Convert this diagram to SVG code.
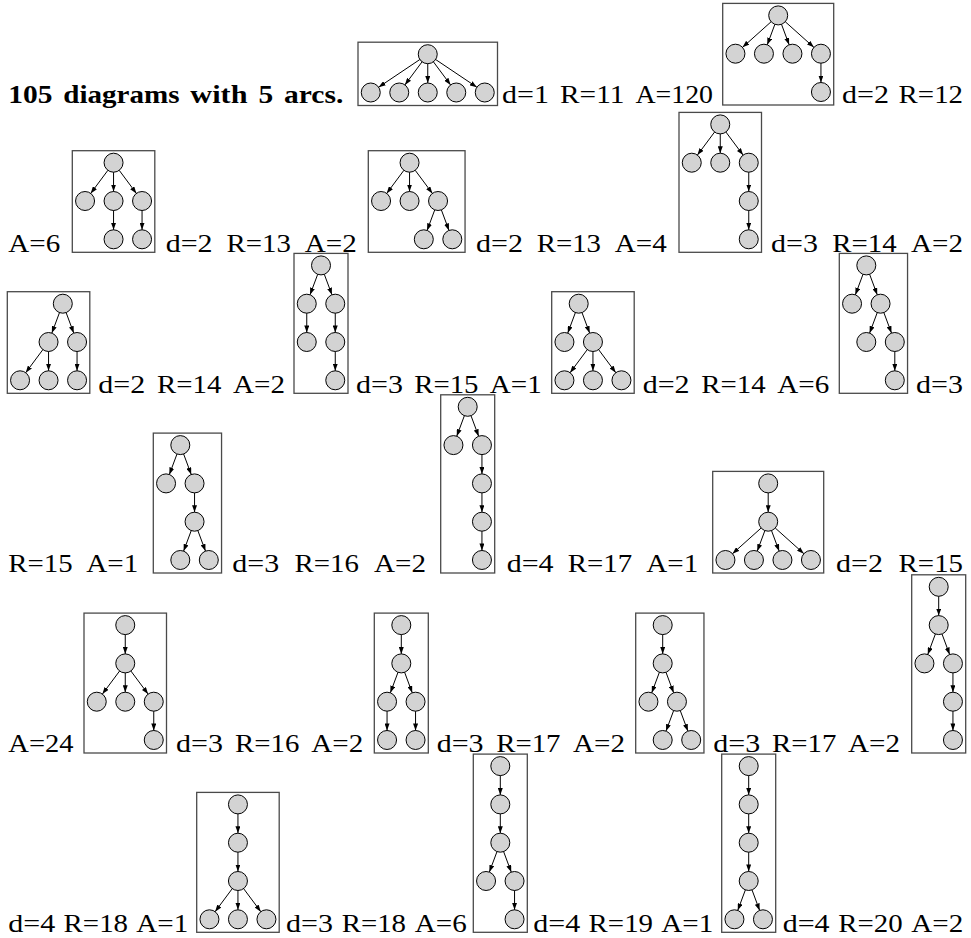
<svg xmlns="http://www.w3.org/2000/svg" width="971" height="938" viewBox="0 0 971 938">
<style>
.box{fill:none;stroke:#4a4a4a;stroke-width:1.3}
.n{fill:#d3d3d3;stroke:#000;stroke-width:1}
.e{stroke:#000;stroke-width:1;fill:none;marker-end:url(#ah)}
</style>
<defs>
<marker id="ah" markerUnits="userSpaceOnUse" markerWidth="7" markerHeight="5" refX="7" refY="2.5" orient="auto">
<path d="M0,0 L7,2.5 L0,5 z" fill="#000"/>
</marker>
</defs>
<rect width="971" height="938" fill="#fff"/>
<g id="title" font-family="Liberation Serif, Times New Roman, serif" font-size="25.5" font-weight="bold" fill="#000">
<text x="8.3" y="103" textLength="44.2" lengthAdjust="spacingAndGlyphs">105</text>
<text x="63.3" y="103" textLength="116.2" lengthAdjust="spacingAndGlyphs">diagrams</text>
<text x="190.3" y="103" textLength="57.2" lengthAdjust="spacingAndGlyphs">with</text>
<text x="258.4" y="103" textLength="14.7" lengthAdjust="spacingAndGlyphs">5</text>
<text x="284" y="103" textLength="59.3" lengthAdjust="spacingAndGlyphs">arcs.</text>
</g>
<g id="labels" font-family="Liberation Serif, Times New Roman, serif" font-size="26" fill="#000">
<text x="502" y="103" textLength="46.95" lengthAdjust="spacingAndGlyphs">d=1</text>
<text x="560.04" y="103" textLength="64.36" lengthAdjust="spacingAndGlyphs">R=11</text>
<text x="635.48" y="103" textLength="77.52" lengthAdjust="spacingAndGlyphs">A=120</text>
<text x="842" y="103" textLength="46.95" lengthAdjust="spacingAndGlyphs">d=2</text>
<text x="898.64" y="103" textLength="64.36" lengthAdjust="spacingAndGlyphs">R=12</text>
<text x="8.3" y="251.5" textLength="51.92" lengthAdjust="spacingAndGlyphs">A=6</text>
<text x="165.7" y="251.5" textLength="46.95" lengthAdjust="spacingAndGlyphs">d=2</text>
<text x="226.54" y="251.5" textLength="64.36" lengthAdjust="spacingAndGlyphs">R=13</text>
<text x="304.79" y="251.5" textLength="51.92" lengthAdjust="spacingAndGlyphs">A=2</text>
<text x="476" y="251.5" textLength="46.95" lengthAdjust="spacingAndGlyphs">d=2</text>
<text x="536.69" y="251.5" textLength="64.36" lengthAdjust="spacingAndGlyphs">R=13</text>
<text x="614.79" y="251.5" textLength="51.92" lengthAdjust="spacingAndGlyphs">A=4</text>
<text x="771" y="251.5" textLength="46.95" lengthAdjust="spacingAndGlyphs">d=3</text>
<text x="832.34" y="251.5" textLength="64.36" lengthAdjust="spacingAndGlyphs">R=14</text>
<text x="911.09" y="251.5" textLength="51.92" lengthAdjust="spacingAndGlyphs">A=2</text>
<text x="98.3" y="392.5" textLength="46.95" lengthAdjust="spacingAndGlyphs">d=2</text>
<text x="156.99" y="392.5" textLength="64.36" lengthAdjust="spacingAndGlyphs">R=14</text>
<text x="233.09" y="392.5" textLength="51.92" lengthAdjust="spacingAndGlyphs">A=2</text>
<text x="356" y="392.5" textLength="46.95" lengthAdjust="spacingAndGlyphs">d=3</text>
<text x="414.19" y="392.5" textLength="64.36" lengthAdjust="spacingAndGlyphs">R=15</text>
<text x="489.79" y="392.5" textLength="51.92" lengthAdjust="spacingAndGlyphs">A=1</text>
<text x="642.7" y="392.5" textLength="46.95" lengthAdjust="spacingAndGlyphs">d=2</text>
<text x="701.34" y="392.5" textLength="64.36" lengthAdjust="spacingAndGlyphs">R=14</text>
<text x="777.39" y="392.5" textLength="51.92" lengthAdjust="spacingAndGlyphs">A=6</text>
<text x="916" y="392.5" textLength="46.95" lengthAdjust="spacingAndGlyphs">d=3</text>
<text x="8.3" y="572" textLength="64.36" lengthAdjust="spacingAndGlyphs">R=15</text>
<text x="86.38" y="572" textLength="51.92" lengthAdjust="spacingAndGlyphs">A=1</text>
<text x="232.3" y="572" textLength="46.95" lengthAdjust="spacingAndGlyphs">d=3</text>
<text x="294.49" y="572" textLength="64.36" lengthAdjust="spacingAndGlyphs">R=16</text>
<text x="374.09" y="572" textLength="51.92" lengthAdjust="spacingAndGlyphs">A=2</text>
<text x="506.7" y="572" textLength="46.95" lengthAdjust="spacingAndGlyphs">d=4</text>
<text x="567.84" y="572" textLength="64.36" lengthAdjust="spacingAndGlyphs">R=17</text>
<text x="646.39" y="572" textLength="51.92" lengthAdjust="spacingAndGlyphs">A=1</text>
<text x="836" y="572" textLength="46.95" lengthAdjust="spacingAndGlyphs">d=2</text>
<text x="898.64" y="572" textLength="64.36" lengthAdjust="spacingAndGlyphs">R=15</text>
<text x="8.3" y="752.3" textLength="65.2" lengthAdjust="spacingAndGlyphs">A=24</text>
<text x="176" y="752.3" textLength="46.95" lengthAdjust="spacingAndGlyphs">d=3</text>
<text x="234.99" y="752.3" textLength="64.36" lengthAdjust="spacingAndGlyphs">R=16</text>
<text x="311.39" y="752.3" textLength="51.92" lengthAdjust="spacingAndGlyphs">A=2</text>
<text x="436.7" y="752.3" textLength="46.95" lengthAdjust="spacingAndGlyphs">d=3</text>
<text x="496.19" y="752.3" textLength="64.36" lengthAdjust="spacingAndGlyphs">R=17</text>
<text x="573.09" y="752.3" textLength="51.92" lengthAdjust="spacingAndGlyphs">A=2</text>
<text x="713.3" y="752.3" textLength="46.95" lengthAdjust="spacingAndGlyphs">d=3</text>
<text x="771.99" y="752.3" textLength="64.36" lengthAdjust="spacingAndGlyphs">R=17</text>
<text x="848.09" y="752.3" textLength="51.92" lengthAdjust="spacingAndGlyphs">A=2</text>
<text x="8.3" y="931.7" textLength="46.95" lengthAdjust="spacingAndGlyphs">d=4</text>
<text x="63.64" y="931.7" textLength="64.36" lengthAdjust="spacingAndGlyphs">R=18</text>
<text x="136.39" y="931.7" textLength="51.92" lengthAdjust="spacingAndGlyphs">A=1</text>
<text x="286" y="931.7" textLength="46.95" lengthAdjust="spacingAndGlyphs">d=3</text>
<text x="341.69" y="931.7" textLength="64.36" lengthAdjust="spacingAndGlyphs">R=18</text>
<text x="414.79" y="931.7" textLength="51.92" lengthAdjust="spacingAndGlyphs">A=6</text>
<text x="533.3" y="931.7" textLength="46.95" lengthAdjust="spacingAndGlyphs">d=4</text>
<text x="588.64" y="931.7" textLength="64.36" lengthAdjust="spacingAndGlyphs">R=19</text>
<text x="661.39" y="931.7" textLength="51.92" lengthAdjust="spacingAndGlyphs">A=1</text>
<text x="782.7" y="931.7" textLength="46.95" lengthAdjust="spacingAndGlyphs">d=4</text>
<text x="838.34" y="931.7" textLength="64.36" lengthAdjust="spacingAndGlyphs">R=20</text>
<text x="911.39" y="931.7" textLength="51.92" lengthAdjust="spacingAndGlyphs">A=2</text>
</g>
<g id="d1" transform="translate(370.75,54.2)"><rect class="box" x="-12.75" y="-12" width="139.5" height="63.3"/>
<circle id="d1n0" class="n" cx="57" cy="0" r="9.5"/><circle id="d1n1" class="n" cx="0" cy="38.3" r="9.5"/><circle id="d1n2" class="n" cx="28.5" cy="38.3" r="9.5"/><circle id="d1n3" class="n" cx="57" cy="38.3" r="9.5"/><circle id="d1n4" class="n" cx="85.5" cy="38.3" r="9.5"/><circle id="d1n5" class="n" cx="114" cy="38.3" r="9.5"/></g>
<g id="d2" transform="translate(735.45,15.4)"><rect class="box" x="-12.75" y="-12" width="111" height="101.6"/>
<circle id="d2n0" class="n" cx="42.75" cy="0" r="9.5"/><circle id="d2n1" class="n" cx="0" cy="38.3" r="9.5"/><circle id="d2n2" class="n" cx="28.5" cy="38.3" r="9.5"/><circle id="d2n3" class="n" cx="57" cy="38.3" r="9.5"/><circle id="d2n4" class="n" cx="85.5" cy="38.3" r="9.5"/><circle id="d2n5" class="n" cx="85.5" cy="76.6" r="9.5"/></g>
<g id="d3" transform="translate(85.05,162.7)"><rect class="box" x="-12.75" y="-12" width="82.5" height="101.6"/>
<circle id="d3n0" class="n" cx="28.5" cy="0" r="9.5"/><circle id="d3n1" class="n" cx="0" cy="38.3" r="9.5"/><circle id="d3n2" class="n" cx="28.5" cy="38.3" r="9.5"/><circle id="d3n3" class="n" cx="57" cy="38.3" r="9.5"/><circle id="d3n4" class="n" cx="28.5" cy="76.6" r="9.5"/><circle id="d3n5" class="n" cx="57" cy="76.6" r="9.5"/></g>
<g id="d4" transform="translate(381.05,162.7)"><rect class="box" x="-12.75" y="-12" width="96.75" height="101.6"/>
<circle id="d4n0" class="n" cx="28.5" cy="0" r="9.5"/><circle id="d4n1" class="n" cx="0" cy="38.3" r="9.5"/><circle id="d4n2" class="n" cx="28.5" cy="38.3" r="9.5"/><circle id="d4n3" class="n" cx="57" cy="38.3" r="9.5"/><circle id="d4n4" class="n" cx="42.75" cy="76.6" r="9.5"/><circle id="d4n5" class="n" cx="71.25" cy="76.6" r="9.5"/></g>
<g id="d5" transform="translate(691.75,124.4)"><rect class="box" x="-12.75" y="-12" width="82.5" height="139.9"/>
<circle id="d5n0" class="n" cx="28.5" cy="0" r="9.5"/><circle id="d5n1" class="n" cx="0" cy="38.3" r="9.5"/><circle id="d5n2" class="n" cx="28.5" cy="38.3" r="9.5"/><circle id="d5n3" class="n" cx="57" cy="38.3" r="9.5"/><circle id="d5n4" class="n" cx="57" cy="76.6" r="9.5"/><circle id="d5n5" class="n" cx="57" cy="114.9" r="9.5"/></g>
<g id="d6" transform="translate(20.05,303.7)"><rect class="box" x="-12.75" y="-12" width="82.5" height="101.6"/>
<circle id="d6n0" class="n" cx="42.75" cy="0" r="9.5"/><circle id="d6n1" class="n" cx="28.5" cy="38.3" r="9.5"/><circle id="d6n2" class="n" cx="57" cy="38.3" r="9.5"/><circle id="d6n3" class="n" cx="0" cy="76.6" r="9.5"/><circle id="d6n4" class="n" cx="28.5" cy="76.6" r="9.5"/><circle id="d6n5" class="n" cx="57" cy="76.6" r="9.5"/></g>
<g id="d7" transform="translate(306.75,265.4)"><rect class="box" x="-12.75" y="-12" width="54" height="139.9"/>
<circle id="d7n0" class="n" cx="14.25" cy="0" r="9.5"/><circle id="d7n1" class="n" cx="0" cy="38.3" r="9.5"/><circle id="d7n2" class="n" cx="28.5" cy="38.3" r="9.5"/><circle id="d7n3" class="n" cx="0" cy="76.6" r="9.5"/><circle id="d7n4" class="n" cx="28.5" cy="76.6" r="9.5"/><circle id="d7n5" class="n" cx="28.5" cy="114.9" r="9.5"/></g>
<g id="d8" transform="translate(564.45,303.7)"><rect class="box" x="-12.75" y="-12" width="82.5" height="101.6"/>
<circle id="d8n0" class="n" cx="14.25" cy="0" r="9.5"/><circle id="d8n1" class="n" cx="0" cy="38.3" r="9.5"/><circle id="d8n2" class="n" cx="28.5" cy="38.3" r="9.5"/><circle id="d8n3" class="n" cx="0" cy="76.6" r="9.5"/><circle id="d8n4" class="n" cx="28.5" cy="76.6" r="9.5"/><circle id="d8n5" class="n" cx="57" cy="76.6" r="9.5"/></g>
<g id="d9" transform="translate(852.05,265.4)"><rect class="box" x="-12.75" y="-12" width="68.25" height="139.9"/>
<circle id="d9n0" class="n" cx="14.25" cy="0" r="9.5"/><circle id="d9n1" class="n" cx="0" cy="38.3" r="9.5"/><circle id="d9n2" class="n" cx="28.5" cy="38.3" r="9.5"/><circle id="d9n3" class="n" cx="14.25" cy="76.6" r="9.5"/><circle id="d9n4" class="n" cx="42.75" cy="76.6" r="9.5"/><circle id="d9n5" class="n" cx="42.75" cy="114.9" r="9.5"/></g>
<g id="d10" transform="translate(166.05,445.1)"><rect class="box" x="-12.75" y="-12" width="68.25" height="139.9"/>
<circle id="d10n0" class="n" cx="14.25" cy="0" r="9.5"/><circle id="d10n1" class="n" cx="0" cy="38.3" r="9.5"/><circle id="d10n2" class="n" cx="28.5" cy="38.3" r="9.5"/><circle id="d10n3" class="n" cx="28.5" cy="76.6" r="9.5"/><circle id="d10n4" class="n" cx="14.25" cy="114.9" r="9.5"/><circle id="d10n5" class="n" cx="42.75" cy="114.9" r="9.5"/></g>
<g id="d11" transform="translate(453.45,406.8)"><rect class="box" x="-12.75" y="-12" width="54" height="178.2"/>
<circle id="d11n0" class="n" cx="14.25" cy="0" r="9.5"/><circle id="d11n1" class="n" cx="0" cy="38.3" r="9.5"/><circle id="d11n2" class="n" cx="28.5" cy="38.3" r="9.5"/><circle id="d11n3" class="n" cx="28.5" cy="76.6" r="9.5"/><circle id="d11n4" class="n" cx="28.5" cy="114.9" r="9.5"/><circle id="d11n5" class="n" cx="28.5" cy="153.2" r="9.5"/></g>
<g id="d12" transform="translate(725.45,483.4)"><rect class="box" x="-12.75" y="-12" width="111" height="101.6"/>
<circle id="d12n0" class="n" cx="42.75" cy="0" r="9.5"/><circle id="d12n1" class="n" cx="42.75" cy="38.3" r="9.5"/><circle id="d12n2" class="n" cx="0" cy="76.6" r="9.5"/><circle id="d12n3" class="n" cx="28.5" cy="76.6" r="9.5"/><circle id="d12n4" class="n" cx="57" cy="76.6" r="9.5"/><circle id="d12n5" class="n" cx="85.5" cy="76.6" r="9.5"/></g>
<g id="d13" transform="translate(96.75,625.1)"><rect class="box" x="-12.75" y="-12" width="82.5" height="139.9"/>
<circle id="d13n0" class="n" cx="28.5" cy="0" r="9.5"/><circle id="d13n1" class="n" cx="28.5" cy="38.3" r="9.5"/><circle id="d13n2" class="n" cx="0" cy="76.6" r="9.5"/><circle id="d13n3" class="n" cx="28.5" cy="76.6" r="9.5"/><circle id="d13n4" class="n" cx="57" cy="76.6" r="9.5"/><circle id="d13n5" class="n" cx="57" cy="114.9" r="9.5"/></g>
<g id="d14" transform="translate(387.05,625.1)"><rect class="box" x="-12.75" y="-12" width="54" height="139.9"/>
<circle id="d14n0" class="n" cx="14.25" cy="0" r="9.5"/><circle id="d14n1" class="n" cx="14.25" cy="38.3" r="9.5"/><circle id="d14n2" class="n" cx="0" cy="76.6" r="9.5"/><circle id="d14n3" class="n" cx="28.5" cy="76.6" r="9.5"/><circle id="d14n4" class="n" cx="0" cy="114.9" r="9.5"/><circle id="d14n5" class="n" cx="28.5" cy="114.9" r="9.5"/></g>
<g id="d15" transform="translate(648.45,625.1)"><rect class="box" x="-12.75" y="-12" width="68.25" height="139.9"/>
<circle id="d15n0" class="n" cx="14.25" cy="0" r="9.5"/><circle id="d15n1" class="n" cx="14.25" cy="38.3" r="9.5"/><circle id="d15n2" class="n" cx="0" cy="76.6" r="9.5"/><circle id="d15n3" class="n" cx="28.5" cy="76.6" r="9.5"/><circle id="d15n4" class="n" cx="14.25" cy="114.9" r="9.5"/><circle id="d15n5" class="n" cx="42.75" cy="114.9" r="9.5"/></g>
<g id="d16" transform="translate(924.45,586.8)"><rect class="box" x="-12.75" y="-12" width="54" height="178.2"/>
<circle id="d16n0" class="n" cx="14.25" cy="0" r="9.5"/><circle id="d16n1" class="n" cx="14.25" cy="38.3" r="9.5"/><circle id="d16n2" class="n" cx="0" cy="76.6" r="9.5"/><circle id="d16n3" class="n" cx="28.5" cy="76.6" r="9.5"/><circle id="d16n4" class="n" cx="28.5" cy="114.9" r="9.5"/><circle id="d16n5" class="n" cx="28.5" cy="153.2" r="9.5"/></g>
<g id="d17" transform="translate(209.45,804.4)"><rect class="box" x="-12.75" y="-12" width="82.5" height="139.9"/>
<circle id="d17n0" class="n" cx="28.5" cy="0" r="9.5"/><circle id="d17n1" class="n" cx="28.5" cy="38.3" r="9.5"/><circle id="d17n2" class="n" cx="28.5" cy="76.6" r="9.5"/><circle id="d17n3" class="n" cx="0" cy="114.9" r="9.5"/><circle id="d17n4" class="n" cx="28.5" cy="114.9" r="9.5"/><circle id="d17n5" class="n" cx="57" cy="114.9" r="9.5"/></g>
<g id="d18" transform="translate(486.05,766.1)"><rect class="box" x="-12.75" y="-12" width="54" height="178.2"/>
<circle id="d18n0" class="n" cx="14.25" cy="0" r="9.5"/><circle id="d18n1" class="n" cx="14.25" cy="38.3" r="9.5"/><circle id="d18n2" class="n" cx="14.25" cy="76.6" r="9.5"/><circle id="d18n3" class="n" cx="0" cy="114.9" r="9.5"/><circle id="d18n4" class="n" cx="28.5" cy="114.9" r="9.5"/><circle id="d18n5" class="n" cx="28.5" cy="153.2" r="9.5"/></g>
<g id="d19" transform="translate(734.45,766.1)"><rect class="box" x="-12.75" y="-12" width="54" height="178.2"/>
<circle id="d19n0" class="n" cx="14.25" cy="0" r="9.5"/><circle id="d19n1" class="n" cx="14.25" cy="38.3" r="9.5"/><circle id="d19n2" class="n" cx="14.25" cy="76.6" r="9.5"/><circle id="d19n3" class="n" cx="14.25" cy="114.9" r="9.5"/><circle id="d19n4" class="n" cx="0" cy="153.2" r="9.5"/><circle id="d19n5" class="n" cx="28.5" cy="153.2" r="9.5"/></g>
<g id="connectors">
<g transform="translate(370.75,54.2)">
<line class="e" x1="49.11" y1="5.3" x2="7.89" y2="33"/><line class="e" x1="51.33" y1="7.62" x2="34.17" y2="30.68"/><line class="e" x1="57" y1="9.5" x2="57" y2="28.8"/><line class="e" x1="62.67" y1="7.62" x2="79.83" y2="30.68"/><line class="e" x1="64.89" y1="5.3" x2="106.11" y2="33"/>
</g>
<g transform="translate(735.45,15.4)">
<line class="e" x1="35.67" y1="6.34" x2="7.08" y2="31.96"/><line class="e" x1="39.44" y1="8.9" x2="31.81" y2="29.4"/><line class="e" x1="46.06" y1="8.9" x2="53.69" y2="29.4"/><line class="e" x1="49.83" y1="6.34" x2="78.42" y2="31.96"/><line class="e" x1="85.5" y1="47.8" x2="85.5" y2="67.1"/>
</g>
<g transform="translate(85.05,162.7)">
<line class="e" x1="22.83" y1="7.62" x2="5.67" y2="30.68"/><line class="e" x1="28.5" y1="9.5" x2="28.5" y2="28.8"/><line class="e" x1="34.17" y1="7.62" x2="51.33" y2="30.68"/><line class="e" x1="28.5" y1="47.8" x2="28.5" y2="67.1"/><line class="e" x1="57" y1="47.8" x2="57" y2="67.1"/>
</g>
<g transform="translate(381.05,162.7)">
<line class="e" x1="22.83" y1="7.62" x2="5.67" y2="30.68"/><line class="e" x1="28.5" y1="9.5" x2="28.5" y2="28.8"/><line class="e" x1="34.17" y1="7.62" x2="51.33" y2="30.68"/><line class="e" x1="53.69" y1="47.2" x2="46.06" y2="67.7"/><line class="e" x1="60.31" y1="47.2" x2="67.94" y2="67.7"/>
</g>
<g transform="translate(691.75,124.4)">
<line class="e" x1="22.83" y1="7.62" x2="5.67" y2="30.68"/><line class="e" x1="28.5" y1="9.5" x2="28.5" y2="28.8"/><line class="e" x1="34.17" y1="7.62" x2="51.33" y2="30.68"/><line class="e" x1="57" y1="47.8" x2="57" y2="67.1"/><line class="e" x1="57" y1="86.1" x2="57" y2="105.4"/>
</g>
<g transform="translate(20.05,303.7)">
<line class="e" x1="39.44" y1="8.9" x2="31.81" y2="29.4"/><line class="e" x1="46.06" y1="8.9" x2="53.69" y2="29.4"/><line class="e" x1="22.83" y1="45.92" x2="5.67" y2="68.98"/><line class="e" x1="28.5" y1="47.8" x2="28.5" y2="67.1"/><line class="e" x1="57" y1="47.8" x2="57" y2="67.1"/>
</g>
<g transform="translate(306.75,265.4)">
<line class="e" x1="10.94" y1="8.9" x2="3.31" y2="29.4"/><line class="e" x1="17.56" y1="8.9" x2="25.19" y2="29.4"/><line class="e" x1="0" y1="47.8" x2="0" y2="67.1"/><line class="e" x1="28.5" y1="47.8" x2="28.5" y2="67.1"/><line class="e" x1="28.5" y1="86.1" x2="28.5" y2="105.4"/>
</g>
<g transform="translate(564.45,303.7)">
<line class="e" x1="10.94" y1="8.9" x2="3.31" y2="29.4"/><line class="e" x1="17.56" y1="8.9" x2="25.19" y2="29.4"/><line class="e" x1="22.83" y1="45.92" x2="5.67" y2="68.98"/><line class="e" x1="28.5" y1="47.8" x2="28.5" y2="67.1"/><line class="e" x1="34.17" y1="45.92" x2="51.33" y2="68.98"/>
</g>
<g transform="translate(852.05,265.4)">
<line class="e" x1="10.94" y1="8.9" x2="3.31" y2="29.4"/><line class="e" x1="17.56" y1="8.9" x2="25.19" y2="29.4"/><line class="e" x1="25.19" y1="47.2" x2="17.56" y2="67.7"/><line class="e" x1="31.81" y1="47.2" x2="39.44" y2="67.7"/><line class="e" x1="42.75" y1="86.1" x2="42.75" y2="105.4"/>
</g>
<g transform="translate(166.05,445.1)">
<line class="e" x1="10.94" y1="8.9" x2="3.31" y2="29.4"/><line class="e" x1="17.56" y1="8.9" x2="25.19" y2="29.4"/><line class="e" x1="28.5" y1="47.8" x2="28.5" y2="67.1"/><line class="e" x1="25.19" y1="85.5" x2="17.56" y2="106"/><line class="e" x1="31.81" y1="85.5" x2="39.44" y2="106"/>
</g>
<g transform="translate(453.45,406.8)">
<line class="e" x1="10.94" y1="8.9" x2="3.31" y2="29.4"/><line class="e" x1="17.56" y1="8.9" x2="25.19" y2="29.4"/><line class="e" x1="28.5" y1="47.8" x2="28.5" y2="67.1"/><line class="e" x1="28.5" y1="86.1" x2="28.5" y2="105.4"/><line class="e" x1="28.5" y1="124.4" x2="28.5" y2="143.7"/>
</g>
<g transform="translate(725.45,483.4)">
<line class="e" x1="42.75" y1="9.5" x2="42.75" y2="28.8"/><line class="e" x1="35.67" y1="44.64" x2="7.08" y2="70.26"/><line class="e" x1="39.44" y1="47.2" x2="31.81" y2="67.7"/><line class="e" x1="46.06" y1="47.2" x2="53.69" y2="67.7"/><line class="e" x1="49.83" y1="44.64" x2="78.42" y2="70.26"/>
</g>
<g transform="translate(96.75,625.1)">
<line class="e" x1="28.5" y1="9.5" x2="28.5" y2="28.8"/><line class="e" x1="22.83" y1="45.92" x2="5.67" y2="68.98"/><line class="e" x1="28.5" y1="47.8" x2="28.5" y2="67.1"/><line class="e" x1="34.17" y1="45.92" x2="51.33" y2="68.98"/><line class="e" x1="57" y1="86.1" x2="57" y2="105.4"/>
</g>
<g transform="translate(387.05,625.1)">
<line class="e" x1="14.25" y1="9.5" x2="14.25" y2="28.8"/><line class="e" x1="10.94" y1="47.2" x2="3.31" y2="67.7"/><line class="e" x1="17.56" y1="47.2" x2="25.19" y2="67.7"/><line class="e" x1="0" y1="86.1" x2="0" y2="105.4"/><line class="e" x1="28.5" y1="86.1" x2="28.5" y2="105.4"/>
</g>
<g transform="translate(648.45,625.1)">
<line class="e" x1="14.25" y1="9.5" x2="14.25" y2="28.8"/><line class="e" x1="10.94" y1="47.2" x2="3.31" y2="67.7"/><line class="e" x1="17.56" y1="47.2" x2="25.19" y2="67.7"/><line class="e" x1="25.19" y1="85.5" x2="17.56" y2="106"/><line class="e" x1="31.81" y1="85.5" x2="39.44" y2="106"/>
</g>
<g transform="translate(924.45,586.8)">
<line class="e" x1="14.25" y1="9.5" x2="14.25" y2="28.8"/><line class="e" x1="10.94" y1="47.2" x2="3.31" y2="67.7"/><line class="e" x1="17.56" y1="47.2" x2="25.19" y2="67.7"/><line class="e" x1="28.5" y1="86.1" x2="28.5" y2="105.4"/><line class="e" x1="28.5" y1="124.4" x2="28.5" y2="143.7"/>
</g>
<g transform="translate(209.45,804.4)">
<line class="e" x1="28.5" y1="9.5" x2="28.5" y2="28.8"/><line class="e" x1="28.5" y1="47.8" x2="28.5" y2="67.1"/><line class="e" x1="22.83" y1="84.22" x2="5.67" y2="107.28"/><line class="e" x1="28.5" y1="86.1" x2="28.5" y2="105.4"/><line class="e" x1="34.17" y1="84.22" x2="51.33" y2="107.28"/>
</g>
<g transform="translate(486.05,766.1)">
<line class="e" x1="14.25" y1="9.5" x2="14.25" y2="28.8"/><line class="e" x1="14.25" y1="47.8" x2="14.25" y2="67.1"/><line class="e" x1="10.94" y1="85.5" x2="3.31" y2="106"/><line class="e" x1="17.56" y1="85.5" x2="25.19" y2="106"/><line class="e" x1="28.5" y1="124.4" x2="28.5" y2="143.7"/>
</g>
<g transform="translate(734.45,766.1)">
<line class="e" x1="14.25" y1="9.5" x2="14.25" y2="28.8"/><line class="e" x1="14.25" y1="47.8" x2="14.25" y2="67.1"/><line class="e" x1="14.25" y1="86.1" x2="14.25" y2="105.4"/><line class="e" x1="10.94" y1="123.8" x2="3.31" y2="144.3"/><line class="e" x1="17.56" y1="123.8" x2="25.19" y2="144.3"/>
</g>
</g>
</svg>
